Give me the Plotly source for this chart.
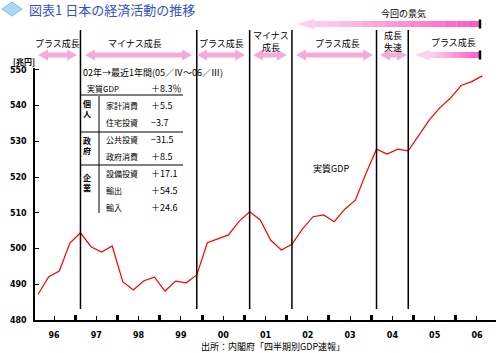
import plotly.graph_objects as go
import numpy as np

# ---------------- data ----------------
years = ["96", "97", "98", "99", "00", "01", "02", "03", "04", "05", "06"]
# real GDP, quarterly 96Q1 .. 06Q3 (trillion yen)
gdp = [487.2, 492.1, 493.7, 501.5, 504.4, 500.5, 499.0, 500.7, 490.7, 488.4,
       491.0, 492.0, 488.1, 490.9, 490.4, 492.6, 501.6, 502.7, 503.8, 507.6,
       510.3, 508.0, 502.3, 499.6, 501.2, 505.5, 508.9, 509.4, 507.5, 511.0,
       513.5, 521.0, 527.8, 526.4, 527.8, 527.3, 531.8, 536.0, 539.4, 542.1,
       545.6, 546.7, 548.3]
y_ticks = [480, 490, 500, 510, 520, 530, 540, 550]
phase_bounds = [4, 15, 20, 24, 32, 35]          # quarter index of turning points
table_items = ["実質GDP", "家計消費", "住宅投資", "公共投資", "政府消費", "設備投資", "輸出", "輸入"]
table_values = ["＋8.3％", "＋5.5", "−3.7", "−31.5", "＋8.5", "＋17.1", "＋54.5", "＋24.6"]
table_groups = ["個<br>人", "政<br>府", "企<br>業"]

# ---------------- geometry ----------------
W, H = 499, 353
ML, MR, MT, MB = 35, 3, 68, 33
XR = [-0.3, 43.3]
YR = [480, 550.5]
PW, PH = W - ML - MR, H - MT - MB


def xd(px):
    return XR[0] + (px - ML) / PW * (XR[1] - XR[0])


def xp(px):
    return (px - ML) / PW


def yp(py):
    return (H - MB - py) / PH


JP = "Noto Sans CJK JP"
quarters = np.arange(len(gdp))

fig = go.Figure()
fig.add_trace(go.Scatter(x=quarters, y=gdp, mode="lines",
                         line=dict(color="#ff0000", width=1.2),
                         showlegend=False, hoverinfo="skip"))

shapes = []
annos = []

# vertical phase lines
for b in phase_bounds:
    shapes.append(dict(type="line", xref="x", yref="paper", x0=b, x1=b,
                       y0=yp(309), y1=yp(30), line=dict(color="black", width=1.5)))


def hexlerp(c1, c2, t):
    a = [int(c1[i:i + 2], 16) for i in (1, 3, 5)]
    b = [int(c2[i:i + 2], 16) for i in (1, 3, 5)]
    return "#" + "".join("%02x" % int(round(a[k] + (b[k] - a[k]) * t)) for k in range(3))


def double_arrow(px0, px1, pyc, col="#f6aadc", hs=2.5, hh=5.5, hl=10):
    x0, x1 = xd(px0), xd(px1)
    L = xd(px0 + hl) - x0
    yc = yp(pyc)
    s = 1 / PH
    path = (f"M {x0},{yc} L {x0+L},{yc+hh*s} L {x0+L},{yc+hs*s} L {x1-L},{yc+hs*s} "
            f"L {x1-L},{yc+hh*s} L {x1},{yc} L {x1-L},{yc-hh*s} L {x1-L},{yc-hs*s} "
            f"L {x0+L},{yc-hs*s} L {x0+L},{yc-hh*s} Z")
    shapes.append(dict(type="path", xref="x", yref="paper", path=path,
                       fillcolor=col, line=dict(width=0)))


def left_arrow(px0, px1, pyc, hs=3, hh=5.5, hl=16, c1="#fbd3ec", c2="#ff55c6", n=14):
    x0, x1 = xd(px0), xd(px1)
    L = xd(px0 + hl) - x0
    yc = yp(pyc)
    s = 1 / PH
    path = (f"M {x0},{yc} L {x0+L},{yc+hh*s} L {x0+L},{yc-hh*s} Z")
    shapes.append(dict(type="path", xref="x", yref="paper", path=path,
                       fillcolor=c1, line=dict(width=0)))
    xs = np.linspace(x0 + L - 0.02, x1, n + 1)
    for k in range(n):
        shapes.append(dict(type="rect", xref="x", yref="paper",
                           x0=xs[k], x1=xs[k + 1] + 0.02, y0=yc - hs * s, y1=yc + hs * s,
                           fillcolor=hexlerp(c1, c2, (k + 0.5) / n), line=dict(width=0)))
    shapes.append(dict(type="line", xref="x", yref="paper", x0=x1, x1=x1,
                       y0=yc - (hs + 1.5) * s, y1=yc + (hs + 1.5) * s,
                       line=dict(color="black", width=2.5)))


# top big arrow "今回の景気"
left_arrow(297, 480, 24, hs=3, hh=5.5, hl=18)
# phase arrows
double_arrow(38, 77, 55)
double_arrow(85, 192, 55)
double_arrow(197, 245, 55)
double_arrow(253, 287, 55)
double_arrow(296, 373, 55)
double_arrow(380, 407, 55)
left_arrow(415, 480, 55, hs=3, hh=5.5, hl=15)


def ann(px, py, text, size=9, xanchor="center", color="black", bold=False, family=JP):
    annos.append(dict(x=xp(px), y=yp(py), xref="paper", yref="paper", text=text,
                      showarrow=False, xanchor=xanchor, yanchor="middle",
                      font=dict(family=family, size=size, color=color,
                                weight=700 if bold else 400)))


ann(403, 13, "今回の景気")
ann(57, 44, "プラス成長")
ann(135, 44, "マイナス成長")
ann(221, 44, "プラス成長")
ann(271, 42, "マイナス<br>成長")
ann(337, 44, "プラス成長")
ann(393, 42, "成長<br>失速")
ann(453, 43, "プラス成長")

# title
shapes.append(dict(type="path", xref="paper", yref="paper",
                   path=f"M {xp(2)},{yp(9)} L {xp(12)},{yp(2)} L {xp(22)},{yp(9)} L {xp(12)},{yp(16)} Z",
                   fillcolor="#a9d8f2", line=dict(color="#7fc0e8", width=1)))
ann(27, 10, "図表1 日本の経済活動の推移", size=13, xanchor="left", color="#3552c8")

# units
ann(24, 61, "[兆円]", size=8, bold=True)

# table
ann(81, 72, "02年→最近1年間(05／Ⅳ～06／Ⅲ)", size=9, xanchor="left")
row_y = [88, 105, 122, 139, 156, 173, 190, 207]
for k, (item, val) in enumerate(zip(table_items, table_values)):
    ann(85 if k == 0 else 104, row_y[k], item, size=8, xanchor="left")
    ann(149, row_y[k], val, size=9, xanchor="left")
for g, gy in zip(table_groups, [108, 145, 182.5]):
    ann(87, gy, g, size=8, bold=True)
for hy in [95, 132, 165]:
    shapes.append(dict(type="line", xref="paper", yref="paper", x0=xp(80), x1=xp(183),
                       y0=yp(hy), y1=yp(hy), line=dict(color="black", width=1)))
shapes.append(dict(type="line", xref="paper", yref="paper", x0=xp(99), x1=xp(99),
                   y0=yp(96), y1=yp(213), line=dict(color="black", width=1)))

# series label and source
ann(331, 168, "実質GDP", size=9)
ann(273, 346, "出所：内閣府「四半期別GDP速報」", size=9)

fig.update_layout(
    width=W, height=H,
    margin=dict(l=ML, r=MR, t=MT, b=MB, pad=0),
    paper_bgcolor="white", plot_bgcolor="white",
    shapes=shapes, annotations=annos,
    xaxis=dict(range=XR, showgrid=False, zeroline=False, showline=True,
               linecolor="black", linewidth=1.5, ticks="inside", ticklen=4,
               tickwidth=1, tickcolor="black",
               tickmode="array", tickvals=[4 * k + 1.5 for k in range(len(years))],
               ticktext=years, ticklabelstandoff=7,
               tickfont=dict(family="DejaVu Sans", size=8, color="black", weight=700),
               minor=dict(tickmode="array", tickvals=[4 * k - 0.5 for k in range(1, len(years))],
                          ticks="inside", ticklen=5, tickwidth=3, tickcolor="black")),
    yaxis=dict(range=YR, showgrid=False, zeroline=False, showline=True,
               linecolor="black", linewidth=1.5, ticks="inside", ticklen=4,
               tickwidth=1, tickcolor="black", tickmode="array", tickvals=y_ticks,
               ticklabelstandoff=5,
               tickfont=dict(family="DejaVu Sans", size=8, color="black", weight=700)),
)

fig.write_html("out.html")
